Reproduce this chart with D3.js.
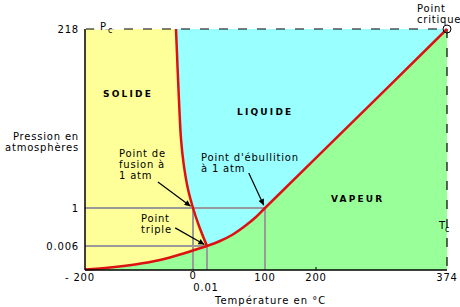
<!DOCTYPE html>
<html><head><meta charset="utf-8">
<script src="https://cdn.jsdelivr.net/npm/d3@7"></script>
<style>body{margin:0;background:#fff} text{font-family:"DejaVu Sans",sans-serif;fill:#000}</style>
</head><body><svg id="c" width="460" height="307"></svg>
<script>
// ---- data ----
const xTickValues = [-200, 0, 0.01, 100, 200, 374];
const xTickLabels = ["- 200", "0", "0.01", "100", "200", "374"];
const yTickValues = [0.006, 1, 218];
const yTickLabels = ["0.006", "1", "218"];
const fusionCurve = [[-31.5,218],[-26,132],[-22,83],[-17,53],[-9,23],[0,1],[0.0043,0.53],[0.01,0.006]];
const sublimationCurve = [[-200,0.000125],[-153.7,0.000625],[-107.4,0.00138],[-61.1,0.0025],[-14.8,0.00425],[0.01,0.006]];
const vaporizationCurve = [[0.01,0.006],[22.4,0.137],[43.1,0.294],[65.5,0.529],[84.5,0.765],[100,1],[245,102],[374,218]];
const referencePoints = [[0,1],[0.01,0.006],[100,1]];     // fusion @1atm, triple, boiling @1atm
const arrowStarts = [[-65,32.5],[-33,0.48],[72,43.4]];
const criticalPoint = [374,218];
const regionLabels = ["SOLIDE","LIQUIDE","VAPEUR"];

// ---- scales ----
const svg = d3.select("#c");
const x = d3.scaleLinear().domain([-200,0,0.01,100,200,374]).range([85,193,207,265,316,447]);
const y = d3.scaleLinear().domain([0,0.006,1,218]).range([270,246,208,29]);
const X0 = x(-200), X1 = x(374), Y0 = y(0), Y1 = y(218);

const line = d3.line().x(d=>x(d[0])).y(d=>y(d[1])).curve(d3.curveCatmullRom.alpha(0.5));
const cont = p => line(p).replace(/^M/,"L");

// ---- regions ----
svg.append("rect").attr("x",X0).attr("y",Y1).attr("width",X1-X0).attr("height",Y0-Y1).attr("fill","#99FF99");
svg.append("path").attr("fill","#99FFFF")
  .attr("d", `M${X0},${Y0}` + cont(sublimationCurve) + cont(vaporizationCurve) + `L${X0},${Y1}Z`);
svg.append("path").attr("fill","#FFFF99")
  .attr("d", `M${X0},${Y1}` + cont(fusionCurve) + cont(sublimationCurve.slice().reverse()) + `L${X0},${Y0}Z`);

// ---- reference grey lines ----
const grey = svg.append("g").attr("stroke","#9a9a9a").attr("stroke-width",2).attr("fill","none");
referencePoints.forEach(p=>{
  grey.append("line").attr("x1",X0).attr("x2",x(p[0])).attr("y1",y(p[1])).attr("y2",y(p[1]));
  grey.append("line").attr("x1",x(p[0])).attr("x2",x(p[0])).attr("y1",y(p[1])).attr("y2",Y0);
});

// ---- dashed critical lines ----
svg.append("line").attr("x1",X0).attr("x2",X1).attr("y1",Y1).attr("y2",Y1)
  .attr("stroke","#000").attr("stroke-width",1.2).attr("stroke-dasharray","9,10").attr("stroke-dashoffset",-1);
svg.append("line").attr("x1",X1).attr("x2",X1).attr("y1",Y1).attr("y2",Y0)
  .attr("stroke","#000").attr("stroke-width",1.2).attr("stroke-dasharray","9,10");

// ---- phase curves ----
const red = svg.append("g").attr("stroke","#DD1111").attr("stroke-width",2.5).attr("fill","none");
[fusionCurve, sublimationCurve, vaporizationCurve].forEach(c=>red.append("path").attr("d",line(c)));

// ---- axes ----
svg.append("line").attr("x1",X0).attr("x2",X0).attr("y1",Y1).attr("y2",Y0).attr("stroke","#000").attr("stroke-width",1.5);
svg.append("line").attr("x1",X0).attr("x2",X1).attr("y1",Y0).attr("y2",Y0).attr("stroke","#000").attr("stroke-width",1.5);
svg.append("line").attr("x1",x(200)).attr("x2",x(200)).attr("y1",Y0-3).attr("y2",Y0).attr("stroke","#000").attr("stroke-width",1);

const T = (tx,ty,s,opt={})=>{
  const t = svg.append("text").attr("x",tx).attr("y",ty).text(s)
    .attr("font-size",opt.size||10).attr("letter-spacing",opt.ls==null?0.8:opt.ls)
    .attr("text-anchor",opt.anchor||"start");
  if(opt.bold) t.attr("font-weight","bold");
  return t;
};

// y tick labels
yTickValues.forEach((v,i)=>T(79,y(v)+4,yTickLabels[i],{anchor:"end"}));
// x tick labels
xTickValues.forEach((v,i)=>{
  const lab = xTickLabels[i];
  const dx = i===0?-5:(lab==="0.01"?-1:0);
  const dy = lab==="0"?9:(lab==="0.01"?21:11);
  T(x(v)+dx, Y0+dy, lab, {anchor:"middle"});
});

// axis titles
T(79,140,"Pression en",{anchor:"end"});
T(79,151,"atmosphères",{anchor:"end"});
T(215,304,"Température en  °C",{ls:1});

// Pc / Tc
svg.append("rect").attr("x",94).attr("y",20).attr("width",30).attr("height",9.6).attr("fill","#fff");
T(100,30,"P",{ls:0});
T(108,33,"c",{ls:0,size:8});
T(439,229,"T",{ls:0});
T(445,232,"c",{ls:0,size:8});

// critical point
svg.append("circle").attr("cx",x(criticalPoint[0])).attr("cy",y(criticalPoint[1])).attr("r",4)
  .attr("fill","none").attr("stroke","#000").attr("stroke-width",1);
T(417,12,"Point");
T(417,23,"critique");

// region labels
T(103,97,regionLabels[0],{bold:true,size:9,ls:2.2});
T(237,115,regionLabels[1],{bold:true,size:9,ls:2.2});
T(331,202,regionLabels[2],{bold:true,size:9,ls:2.2});

// annotations
T(119,157,"Point de"); T(119,168,"fusion à"); T(119,179,"1 atm");
T(141,222,"Point"); T(141,233,"triple");
T(201,161,"Point d'ébullition"); T(201,172,"à 1 atm");

svg.append("defs").append("marker").attr("id","ah").attr("viewBox","0 0 10 10").attr("refX",10).attr("refY",5)
  .attr("markerWidth",9).attr("markerHeight",6).attr("markerUnits","userSpaceOnUse").attr("orient","auto")
  .append("path").attr("d","M0,0L10,5L0,10Z").attr("fill","#000");
arrowStarts.forEach((s,i)=>{
  const x1=x(s[0]), y1=y(s[1]), x2=x(referencePoints[i][0]), y2=y(referencePoints[i][1]);
  const L=Math.hypot(x2-x1,y2-y1), k=(L-3)/L;
  svg.append("line").attr("x1",x1).attr("y1",y1).attr("x2",x1+(x2-x1)*k).attr("y2",y1+(y2-y1)*k)
    .attr("stroke","#000").attr("stroke-width",1.2).attr("marker-end","url(#ah)");
});
</script></body></html>
